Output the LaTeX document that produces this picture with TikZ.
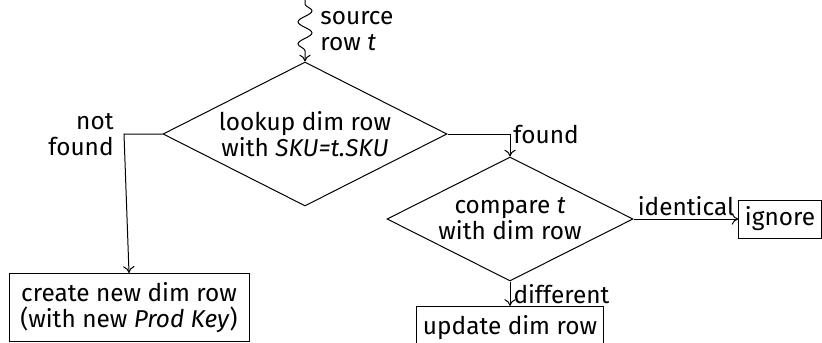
\documentclass[tikz,border=0pt]{standalone}
\usepackage{fontspec}
\setmainfont{Fira Sans}
\usetikzlibrary{arrows.meta,positioning,shapes.geometric,decorations.pathmorphing}

\begin{document}
\begin{tikzpicture}[
  x=0.5pt, y=-0.5pt,
  every node/.style={font=\fontsize{12.2}{13}\selectfont},
  decision/.style={diamond, aspect=2, draw=black, line width=0.5pt, align=center, inner sep=0pt},
  block/.style={rectangle, draw=black, line width=0.5pt, align=center, inner xsep=3pt, inner ysep=2pt},
  arrow/.style={-{To[length=1.2mm,width=2mm]}, line width=0.5pt},
  lbl/.style={inner sep=1.5pt, align=right}
]
\useasboundingbox (0,0) rectangle (822,342);

\coordinate (src) at (305,0);
\node[decision, minimum width=142pt, minimum height=72pt] (lookup) at (305,134) {lookup dim row\\with \textit{SKU=t.SKU}};
\node[decision, minimum width=123pt, minimum height=62pt] (compare) at (510,219) {compare \textit{t}\\with dim row};
\node[block, anchor=north, minimum width=120pt, inner ysep=4.5pt] (create) at (129,273) {create new dim row\\(with new \textit{Prod Key})};
\node[block, anchor=north, minimum width=93pt, minimum height=22pt, text depth=4pt] (update) at (510,306) {update dim row};
\node[block, minimum width=40pt, minimum height=19pt] (ignore) at (780,219) {ignore};
\coordinate (nf) at (124,134);
\coordinate (fd) at (510,134);

\draw[arrow, decorate, decoration={snake, amplitude=3.5pt, segment length=11pt, pre length=2pt, post length=5pt}] (src) -- (lookup.north);
\node[anchor=west, align=left, inner sep=0pt] at (320,31) {source\\row \textit{t}};

\draw[arrow] (lookup.west) -- (nf) -- (create.north);
\node[lbl, anchor=east] at (117,135) {not\\found};
\draw[arrow] (lookup.east) -- (fd) -- (compare.north);
\node[lbl, anchor=west] at (fd) {found};
\draw[arrow] (compare.east) -- node[above, inner sep=1.5pt] {identical} (ignore.west);
\draw[arrow] (compare.south) -- node[right, inner sep=1.5pt] {different} (update.north);
\end{tikzpicture}
\end{document}
